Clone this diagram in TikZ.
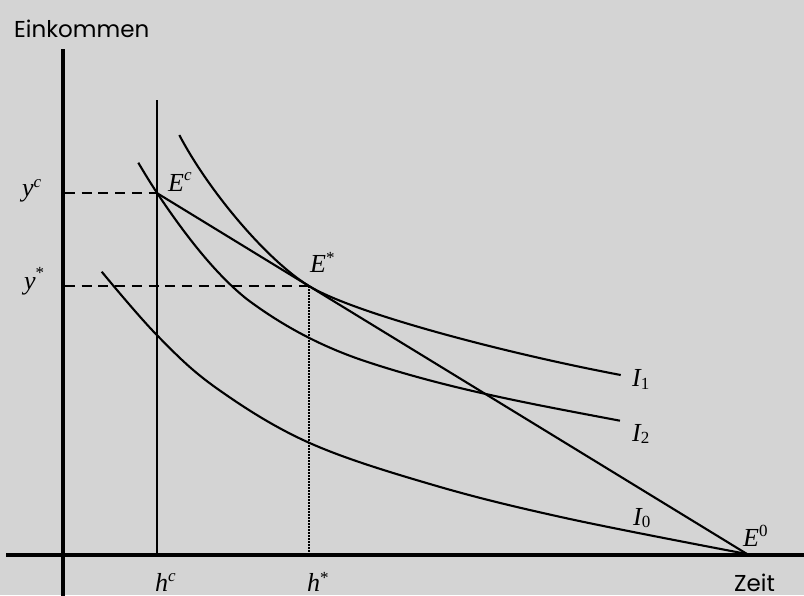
\documentclass[tikz,border=0pt]{standalone}
\usepackage{fontspec}
\setmainfont{Liberation Serif}
\newfontfamily\gothic{Poppins}
\definecolor{bg}{RGB}{212,212,212}
\newcommand\sups[2]{\raisebox{#1pt}{\fontsize{17}{17}\selectfont #2}}
\begin{document}
\begin{tikzpicture}[x=1pt,y=-1pt,
  thinl/.style={line width=2.1pt},
  axisline/.style={line width=4pt},
  dashline/.style={line width=2pt, dash pattern=on 10pt off 6.7pt},
  dotline/.style={line width=2pt, dash pattern=on 1.5pt off 1.5pt},
  lbl/.style={inner sep=0pt, anchor=base west, font=\fontsize{26}{26}\selectfont\itshape},
  axlbl/.style={inner sep=0pt, anchor=base west, font=\gothic\fontsize{23}{23}\selectfont}]
\fill[bg] (0,0) rectangle (804,595);
\useasboundingbox (0,0) rectangle (804,595);
% key points
\coordinate (ytop) at (63,49);
\coordinate (ybot) at (63,597);
\coordinate (xl) at (6,554.5);
\coordinate (xr) at (806,554.5);
\coordinate (Ecp) at (157.3,193.3);
\coordinate (Esp) at (309,286);
\coordinate (E0p) at (747,554);
\coordinate (vtop) at (157.3,100);
\coordinate (vbot) at (157.3,554.5);
\coordinate (yca) at (65,193.3);
\coordinate (ysa) at (65,286);
\coordinate (hsa) at (309,554.5);
\coordinate (I1s) at (179.3,135);
\coordinate (I1e) at (620.7,375);
\coordinate (I2s) at (138.3,162.7);
\coordinate (I2a) at (246.7,299);
\coordinate (I2b) at (366.7,361.7);
\coordinate (I2e) at (620,420.7);
% guide lines
\draw[thinl] (vtop) -- (vbot);
\draw[dashline] (yca) -- (Ecp);
\draw[dashline] (ysa) -- (Esp);
\draw[dotline] (Esp) -- (hsa);
% budget line
\draw[thinl] (Ecp) -- (E0p);
% indifference curves
\draw[thinl] (I1s) .. controls (209.5,192.5) and (267.9,260.9) .. (Esp)
  .. controls (353,312.9) and (501.6,352.4) .. (I1e);
\draw[thinl] (I2s) .. controls (144.63,173.47) and (150.97,183.8) .. (Ecp)
  .. controls (187.1,238) and (216.9,275.16) .. (I2a)
  .. controls (286.7,329) and (326.7,348.5) .. (I2b)
  .. controls (451.1,389.6) and (535.6,404.7) .. (I2e);
\draw[thinl] plot[smooth, tension=0.6] coordinates {(101.7,271.7) (157.3,335.5) (216.7,388.3) (309,442.7) (433.3,485) (566.7,518.3) (E0p)};
% axes
\draw[axisline] (ytop) -- (ybot);
\draw[axisline] (xl) -- (xr);
% labels
\node[axlbl] (ein) at (14,37) {Einkommen};
\node[axlbl] (zeit) at (734,591) {Zeit};
\node[lbl] (yc) at (22,196.5) {y\sups{8.7}{c}};
\node[lbl] (ys) at (24,289) {y\sups{10.4}{\upshape*}};
\node[lbl] (Ec) at (168,191.7) {E\sups{10.9}{c}};
\node[lbl] (Es) at (310,272) {E\sups{8.4}{\upshape*}};
\node[lbl] (E0) at (743,546) {E\sups{9.5}{\upshape 0}};
\node[lbl] (hc) at (155,591) {h\sups{9.2}{c}};
\node[lbl] (hs) at (307,591) {h\sups{7.4}{\upshape*}};
\node[lbl] (I1) at (632,386.7) {I\sups{-2.3}{\upshape 1}};
\node[lbl] (I2) at (632,441.5) {I\sups{-2.3}{\upshape 2}};
\node[lbl] (I0) at (633,525) {I\sups{-2}{\upshape 0}};
\end{tikzpicture}
\end{document}
